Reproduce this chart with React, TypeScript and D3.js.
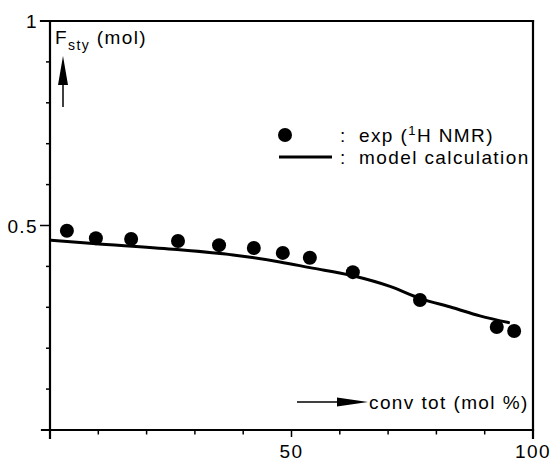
import React from "react";
import * as d3 from "d3";

// Styrene fraction in copolymer vs. total conversion
const expConv = [3.5, 9.5, 16.8, 26.5, 35.0, 42.2, 48.2, 53.8, 62.7, 76.6, 92.5, 96.1];
const expFsty = [0.487, 0.469, 0.467, 0.462, 0.452, 0.445, 0.433, 0.421, 0.386, 0.318, 0.252, 0.242];

const modelConv = [0, 8.9, 25.5, 37.9, 47.6, 53.8, 62.7, 70.4, 76.6, 83.4, 89.0, 95.2];
const modelFsty = [0.464, 0.456, 0.442, 0.428, 0.411, 0.397, 0.377, 0.351, 0.322, 0.299, 0.279, 0.262];

const xTickValues = [10, 20, 30, 40, 50, 60, 70, 80, 90];
const xMajorTicks = [50];
const xTickLabels = ["50", "100"];
const xLabelValues = [50, 100];
const yTickValues = [0.1, 0.2, 0.3, 0.4, 0.5, 0.6, 0.7, 0.8, 0.9];
const yMajorTicks = [0.5];
const yTickLabels = ["0.5", "1"];
const yLabelValues = [0.5, 1];

const W = 553;
const H = 463;
const FONT = "'Liberation Sans', Arial, Helvetica, sans-serif";

export default function App() {
  const x = d3.scaleLinear().domain([0, 100]).range([50, 533]);
  const y = d3.scaleLinear().domain([0, 1]).range([430, 21]);

  const modelPts: [number, number][] = modelConv.map((c, i) => [c, modelFsty[i]]);
  const line = d3
    .line<[number, number]>()
    .x((d) => x(d[0]))
    .y((d) => y(d[1]))
    .curve(d3.curveMonotoneX);

  const x0 = x(0);
  const x1 = x(100);
  const y0 = y(0);
  const y1 = y(1);

  const textStyle = { fontFamily: FONT, fontSize: 19, letterSpacing: 1.4, fill: "#000" } as const;

  return (
    <svg
      width={W}
      height={H}
      viewBox={`0 0 ${W} ${H}`}
      style={{ position: "absolute", left: 0, top: 0, background: "#fff" }}
    >
      <rect x={0} y={0} width={W} height={H} fill="#fff" />

      {/* frame */}
      <g stroke="#000" strokeWidth={2.2} fill="none" strokeLinecap="square">
        <line x1={x0} y1={y1} x2={x0} y2={y0 + 8} />
        <line x1={x0 - 8} y1={y0} x2={x1} y2={y0} />
        <line x1={x0 - 9} y1={y1} x2={x1} y2={y1} />
        <line x1={x1} y1={y1} x2={x1} y2={y0 + 8} />
      </g>

      {/* x ticks */}
      <g stroke="#000" strokeWidth={1.5}>
        {xTickValues.map((v) => (
          <line
            key={v}
            x1={x(v)}
            x2={x(v)}
            y1={y0}
            y2={y0 + (xMajorTicks.includes(v) ? 7 : 4.5)}
          />
        ))}
      </g>
      {/* y ticks */}
      <g stroke="#000" strokeWidth={1.5}>
        {yTickValues.map((v) => (
          <line
            key={v}
            x1={x0}
            x2={x0 - (yMajorTicks.includes(v) ? 10 : 4)}
            y1={y(v)}
            y2={y(v)}
          />
        ))}
      </g>

      {/* tick labels */}
      {xLabelValues.map((v, i) => (
        <text key={v} x={x(v)} y={458} textAnchor="middle" {...textStyle}>
          {xTickLabels[i]}
        </text>
      ))}
      {yLabelValues.map((v, i) => (
        <text key={v} x={38} y={y(v) + 7} textAnchor="end" {...textStyle}>
          {yTickLabels[i]}
        </text>
      ))}

      {/* model curve */}
      <path d={line(modelPts) ?? ""} fill="none" stroke="#000" strokeWidth={3} />

      {/* experimental points */}
      <g fill="#000">
        {expConv.map((c, i) => (
          <circle key={i} cx={x(c)} cy={y(expFsty[i])} r={7} />
        ))}
      </g>

      {/* y-axis title with arrow */}
      <text x={55} y={44} {...textStyle}>
        F
        <tspan fontSize={14} dy={6}>sty</tspan>
        <tspan dy={-6}> (mol)</tspan>
      </text>
      <line x1={63} y1={107} x2={63} y2={75} stroke="#000" strokeWidth={1.5} />
      <polygon points="63,56 68,85 58,85" fill="#000" />

      {/* x-axis title with arrow */}
      <line x1={297} y1={402} x2={340} y2={402} stroke="#000" strokeWidth={1.5} />
      <polygon points="368,402 337,397.5 337,406.5" fill="#000" />
      <text x={369} y={409} {...textStyle}>
        conv tot (mol %)
      </text>

      {/* legend */}
      <circle cx={285} cy={135} r={7} fill="#000" />
      <text x={340} y={142} {...textStyle}>:</text>
      <text x={359} y={142} {...textStyle}>
        exp (<tspan fontSize={13} dy={-7}>1</tspan>
        <tspan dy={7}>H NMR)</tspan>
      </text>
      <line x1={279} y1={157} x2={332} y2={157} stroke="#000" strokeWidth={3} />
      <text x={340} y={164} {...textStyle}>:</text>
      <text x={359} y={164} {...textStyle}>model calculation</text>
    </svg>
  );
}
